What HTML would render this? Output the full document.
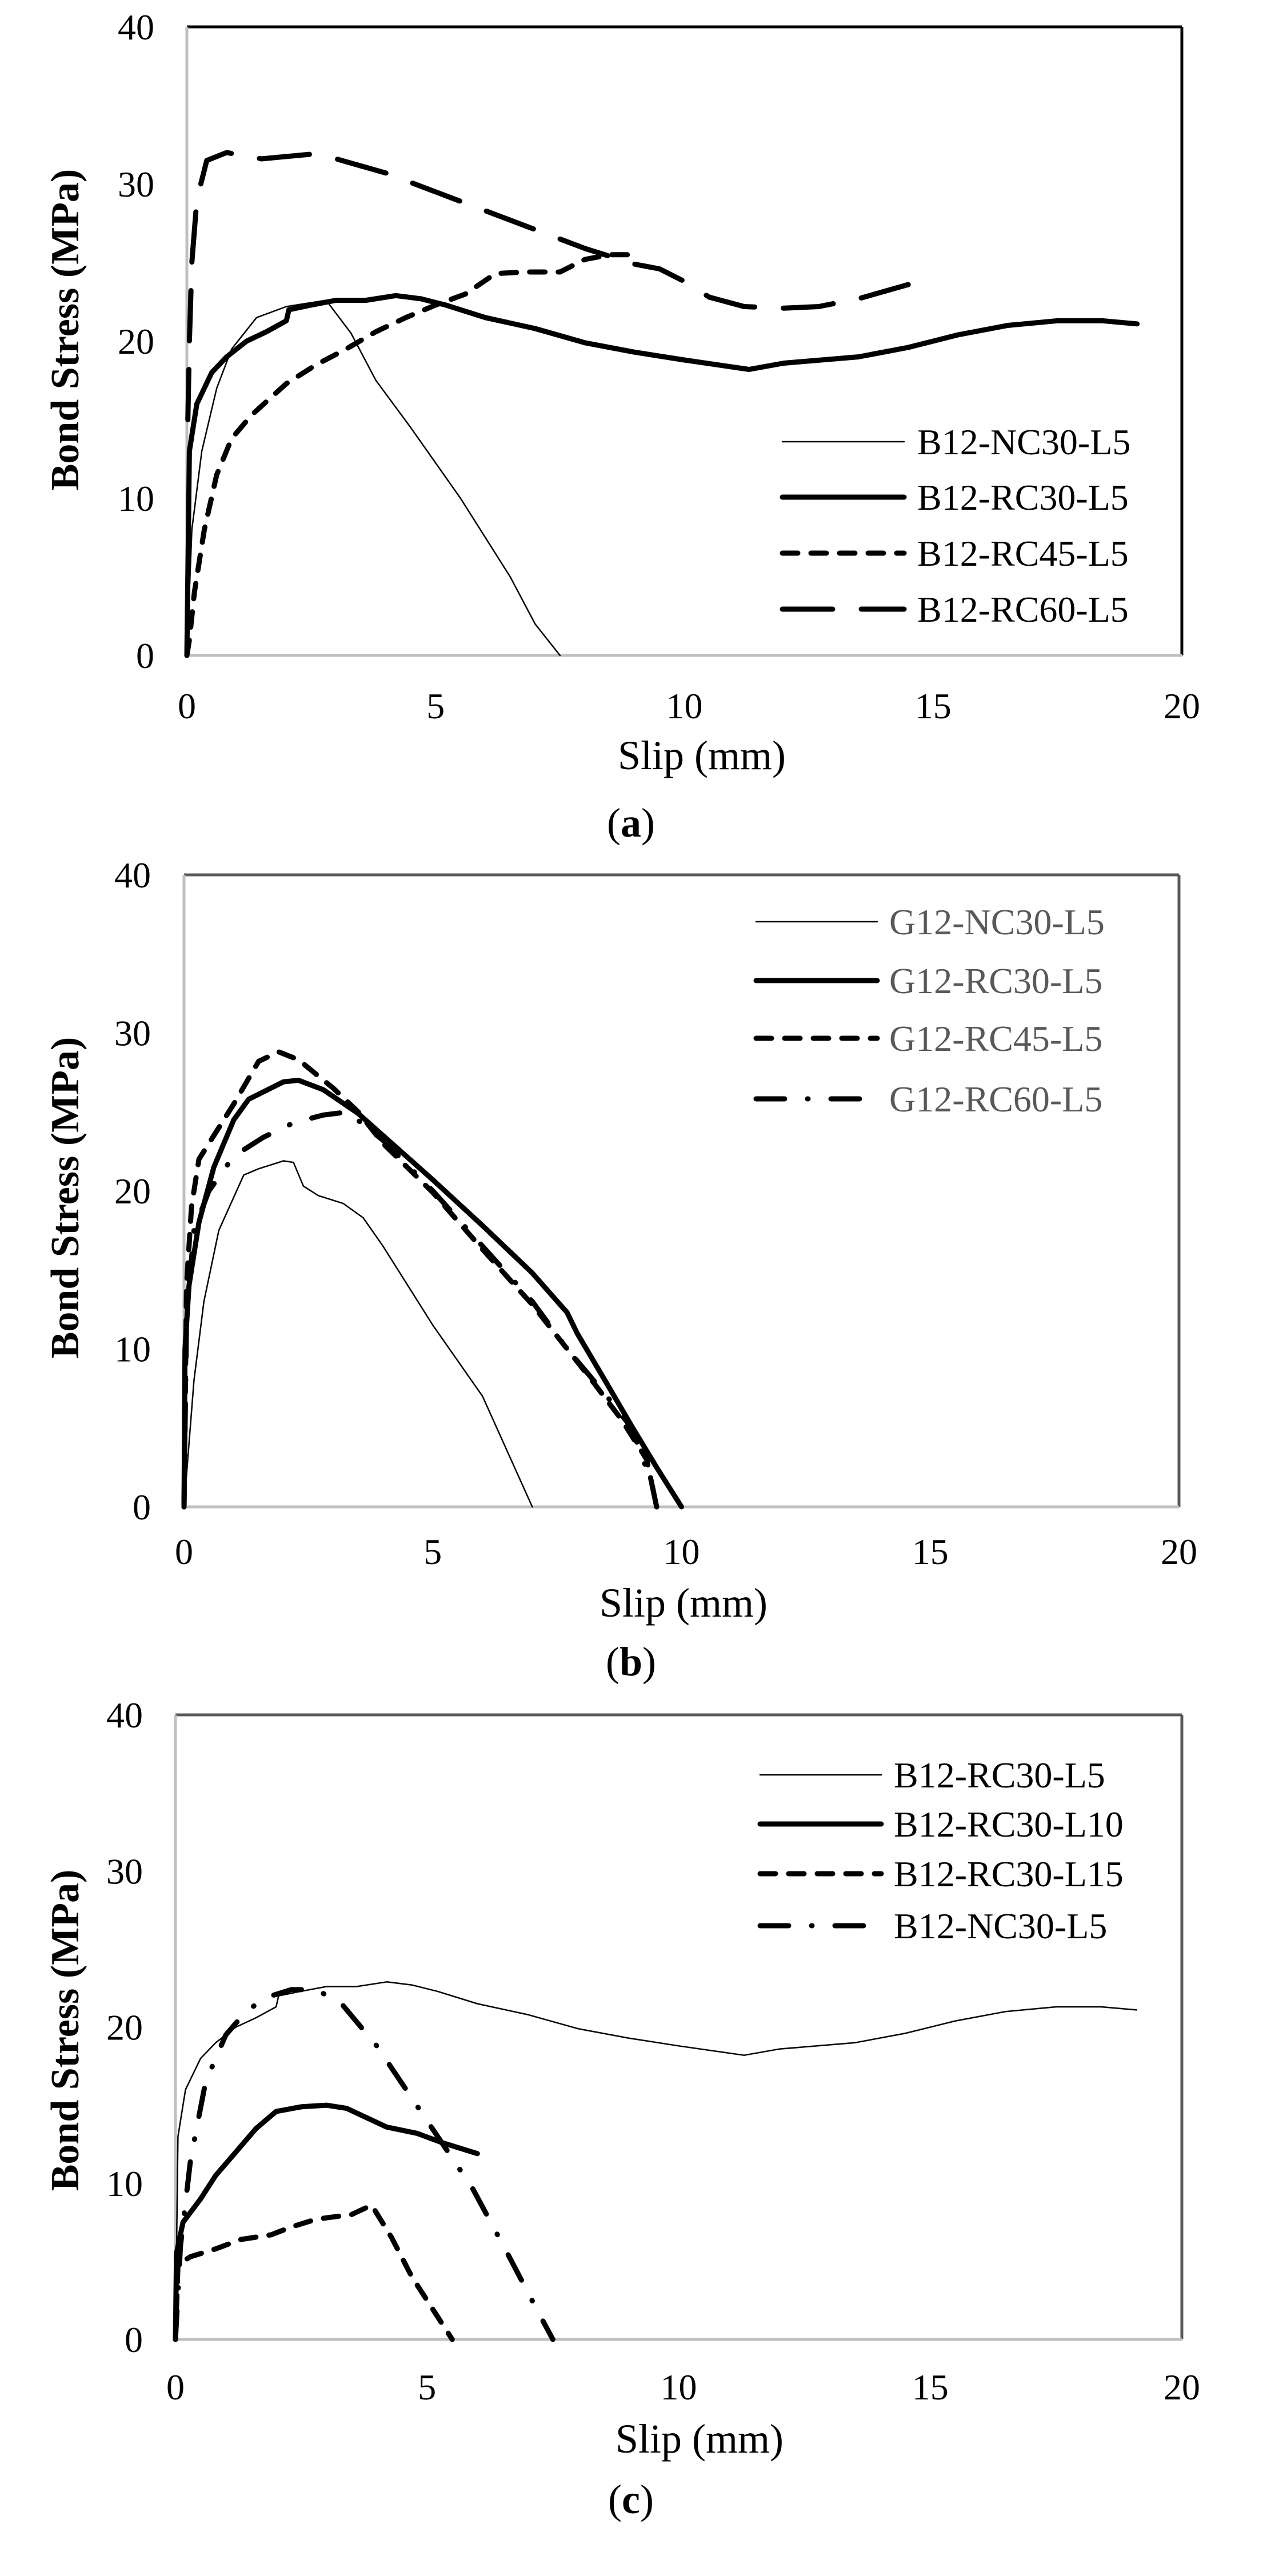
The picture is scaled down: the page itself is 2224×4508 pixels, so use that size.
<!DOCTYPE html>
<html><head><meta charset="utf-8">
<style>
html,body{margin:0;padding:0;background:#fff;}
svg{display:block;}
text{font-family:"Liberation Serif","Times New Roman",serif;fill:#000;}
</style></head>
<body>
<svg id="s" width="2224" height="4508" viewBox="0 0 2224 4508" xmlns="http://www.w3.org/2000/svg">
<rect width="2224" height="4508" fill="#fff"/>
</svg>
<script>
var NS="http://www.w3.org/2000/svg",S=document.getElementById('s');
function el(t,a,txt){var e=document.createElementNS(NS,t);for(var k in a)e.setAttribute(k,a[k]);if(txt!=null)e.textContent=txt;S.appendChild(e);return e;}
var rc30=[[0,0],[0.05,13],[0.2,16],[0.5,18],[0.8,19],[1.2,20],[1.6,20.6],[2.0,21.3],[2.05,22],[2.5,22.3],[3,22.6],[3.6,22.6],[4.2,22.9],[4.7,22.7],[5.2,22.3],[6,21.5],[7,20.8],[8,19.9],[9,19.3],[10,18.8],[11.3,18.2],[12,18.6],[13.5,19],[14.5,19.6],[15.5,20.4],[16.5,21],[17.5,21.3],[18.4,21.3],[19.1,21.1]];
var styles={
 thin:{w:2.5,d:null},
 thick:{w:9,d:null},
 sdash:{w:9,d:"27 23"},
 ldash:{w:9,d:"88 50"},
 dashdot:{w:9,d:"50 40 1 40"}
};
var panels=[
 {x0:327,x1:2068,y0:1147,y1:47,rc:"#000",yl:270,tx:1235,ax:113,ay:577,sx:1228,sy:1322,lab:"a",ly:1440,
  lg:{l1:1369,l2:1582,tx:1605,col:"#000",rows:[773,870,968,1066]},
  series:[
   ["B12-NC30-L5","thin",[[0,0],[0.1,8],[0.3,13],[0.6,17],[0.9,19.5],[1.4,21.5],[2,22.2],[2.8,22.6],[3.3,20.5],[3.8,17.5],[4.5,14.5],[5.5,10],[6.5,5],[7,2],[7.5,0]]],
   ["B12-RC30-L5","thick",rc30],
   ["B12-RC45-L5","sdash",[[0,0],[0.05,1],[0.15,4],[0.35,8],[0.6,11.5],[0.9,13.8],[1.3,15.3],[2,17.3],[2.6,18.5],[3.2,19.5],[3.8,20.6],[4.4,21.5],[5,22.3],[5.6,23],[6.2,24.3],[6.8,24.4],[7.5,24.4],[8,25.2],[8.5,25.5],[9,25.5]]],
   ["B12-RC60-L5","ldash",[[0.02,15],[0.05,20],[0.1,25],[0.2,29],[0.4,31.5],[0.8,32],[1.5,31.6],[2.5,31.9],[3,31.6],[4,30.7],[5,29.5],[6,28.3],[7,27.1],[8,25.9],[9,24.9],[9.5,24.6],[10,23.8],[10.5,22.8],[11.2,22.2],[12,22.1],[12.7,22.2],[13.5,22.7],[14.5,23.6]]]
  ]},
 {x0:322,x1:2063,y0:2637,y1:1531,rc:"#595959",yl:264,tx:2715,ax:113,ay:2096,sx:1196,sy:2805,lab:"b",ly:2908,
  lg:{l1:1323,l2:1535,tx:1556,col:"#595959",rows:[1613,1716,1817,1923]},
  series:[
   ["G12-NC30-L5","thin",[[0,0],[0.2,8],[0.4,13],[0.7,17.5],[1.2,21],[1.5,21.4],[2,21.9],[2.2,21.8],[2.4,20.3],[2.7,19.7],[3.2,19.2],[3.6,18.3],[4,16.5],[5,11.5],[6,7],[7,0]]],
   ["G12-RC30-L5","thick",[[0,0],[0.02,10],[0.1,14],[0.3,18],[0.6,21.5],[1,24.5],[1.3,25.8],[2,26.9],[2.3,27],[2.8,26.4],[3.5,24.9],[4,23.5],[5,20.7],[6,17.8],[7,14.8],[7.7,12.3],[7.9,11],[8.5,7.8],[9,5.1],[9.5,2.5],[10,0]]],
   ["G12-RC45-L5","sdash",[[0,0],[0.05,14],[0.15,19],[0.3,22],[0.6,23.5],[1,25.5],[1.5,28.2],[1.9,28.8],[2.3,28.3],[3,26.5],[3.5,25],[4,23],[5,19.9],[6,16.3],[7,12.8],[7.7,10],[8.2,8],[8.8,5.5],[9.3,3],[9.4,1.5],[9.5,0]]],
   ["G12-RC60-L5","dashdot",[[0,0],[0.05,12],[0.2,17.5],[0.5,20],[1,22.2],[1.6,23.4],[2.2,24.3],[2.8,24.8],[3.3,25],[3.6,24.2],[4,23.2],[5,20],[6,16.5],[7,13],[7.7,10],[8.5,7],[9,5],[9.4,1.5],[9.5,0]]]
  ]},
 {x0:307,x1:2068,y0:4094,y1:3001,rc:"#595959",yl:250,tx:4177,ax:113,ay:3553,sx:1224,sy:4268,lab:"c",ly:4374,
  lg:{l1:1330,l2:1542,tx:1564,col:"#000",rows:[3106,3192,3279,3370]},
  series:[
   ["B12-RC30-L5","thin",rc30],
   ["B12-RC30-L10","thick",[[0,0],[0.02,5.5],[0.15,7.5],[0.5,9],[0.8,10.5],[1.2,12],[1.6,13.5],[2,14.6],[2.5,14.9],[3,15],[3.4,14.8],[3.8,14.2],[4.2,13.6],[4.8,13.2],[5.3,12.6],[6,11.9]]],
   ["B12-RC30-L15","sdash",[[0,0],[0.05,4.8],[0.3,5.3],[0.8,5.8],[1.3,6.4],[1.9,6.7],[2.3,7.2],[2.8,7.7],[3.5,8],[3.9,8.6],[4.3,6.5],[4.7,4],[5.1,2],[5.5,0]]],
   ["B12-NC30-L5","dashdot",[[0,0],[0.1,6],[0.3,11.5],[0.6,16.5],[1,19.5],[1.4,21],[1.8,21.9],[2.3,22.4],[2.8,22.4],[3.3,21.5],[4,18.8],[5,14],[5.9,9.7],[6.6,5.5],[7.2,1.8],[7.5,0]]]
  ]}
];
panels.forEach(function(p){
 function X(v){return p.x0+(p.x1-p.x0)*v/20;}
 function Y(v){return p.y0+(p.y1-p.y0)*v/40;}
 el('line',{x1:p.x0,y1:p.y1,x2:p.x1,y2:p.y1,stroke:p.rc,'stroke-width':5});
 el('line',{x1:p.x1,y1:p.y1,x2:p.x1,y2:p.y0,stroke:p.rc,'stroke-width':5});
 el('line',{x1:p.x0,y1:p.y1,x2:p.x0,y2:p.y0,stroke:"#bfbfbf",'stroke-width':5});
 el('line',{x1:p.x0,y1:p.y0,x2:p.x1,y2:p.y0,stroke:"#bfbfbf",'stroke-width':5});
 for(var v=0;v<=40;v+=10){el('text',{x:p.yl,y:Y(v)+22,'font-size':64,'text-anchor':'end'},String(v));}
 for(var u=0;u<=20;u+=5){el('text',{x:X(u),y:p.tx+22,'font-size':64,'text-anchor':'middle'},String(u));}
 el('text',{x:p.sx,y:p.sy+24,'font-size':72,'text-anchor':'middle'},"Slip (mm)");
 el('text',{x:0,y:0,'font-size':70,'font-weight':'bold','text-anchor':'middle',transform:'translate('+(p.ax+24)+','+p.ay+') rotate(-90)'},"Bond Stress (MPa)");
 var t=el('text',{x:1104,y:p.ly+24,'font-size':72,'text-anchor':'middle'});
 t.innerHTML='(<tspan font-weight="bold">'+p.lab+'</tspan>)';
 p.series.forEach(function(s,i){
  var st=styles[s[1]];
  var d=s[2].map(function(pt,j){return (j?'L':'M')+X(pt[0]).toFixed(1)+' '+Y(pt[1]).toFixed(1);}).join(' ');
  var a={d:d,fill:'none',stroke:'#000','stroke-width':st.w,'stroke-linejoin':'round','stroke-linecap':'round'};
  if(st.d)a['stroke-dasharray']=st.d;
  el('path',a);
  var ry=p.lg.rows[i];
  var la={x1:p.lg.l1,y1:ry,x2:p.lg.l2,y2:ry,stroke:'#000','stroke-width':st.w,'stroke-linecap':'round'};
  if(st.d)la['stroke-dasharray']=st.d;
  el('line',la);
  el('text',{x:p.lg.tx,y:ry+22,'font-size':64,fill:p.lg.col,style:'fill:'+p.lg.col},s[0]);
 });
});
</script>
</body></html>
